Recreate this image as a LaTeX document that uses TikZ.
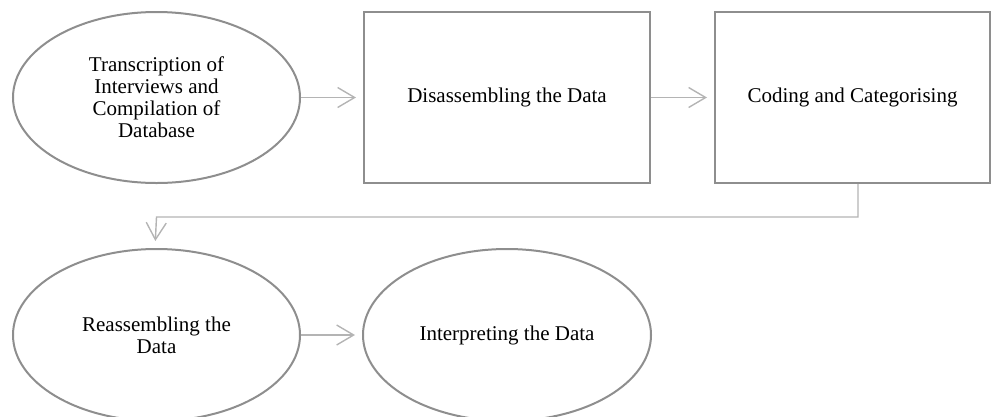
\documentclass[tikz,border=0pt]{standalone}
\usepackage{fontspec}
\setmainfont{Liberation Serif}
\usetikzlibrary{shapes.geometric,arrows.meta}
\definecolor{bordergray}{HTML}{8E8E8E}
\definecolor{linegray}{HTML}{B4B4B4}
\begin{document}
\begin{tikzpicture}[x=1pt,y=-1pt,
  every node/.style={font=\fontsize{21}{22}\selectfont, align=center, inner sep=0pt},
  ovalbox/.style={ellipse, draw=bordergray, line width=2pt, minimum width=287pt},
  rectbox/.style={rectangle, draw=bordergray, line width=2pt, minimum height=171pt},
  conn/.style={draw=linegray, line width=1.4pt, -{Straight Barb[length=17pt,width=20pt]}, shorten >=7pt}
]
\useasboundingbox (0,0) rectangle (992,416);
\node[ovalbox, minimum height=171pt] (e1) at (156.5,97.5) {Transcription of\\Interviews and\\Compilation of\\Database};
\node[rectbox, minimum width=286pt] (b1) at (507,97.5) {Disassembling the Data};
\node[rectbox, minimum width=275pt] (b2) at (852.5,97.5) {Coding and Categorising};
\node[ovalbox, minimum height=172pt] (e3) at (156.5,335) {Reassembling the\\Data};
\node[ovalbox, minimum height=172pt, minimum width=288pt] (e4) at (507,335) {Interpreting the Data};
\draw[conn] (e1) -- (b1);
\draw[conn] (b1) -- (b2);
\draw[conn] (e3) -- (e4);
\coordinate (turn) at (0,217);
\draw[conn] ([xshift=5.5pt]b2.south) |- (turn -| e3.north) -- ([xshift=-1.5pt]e3.north);
\end{tikzpicture}
\end{document}
